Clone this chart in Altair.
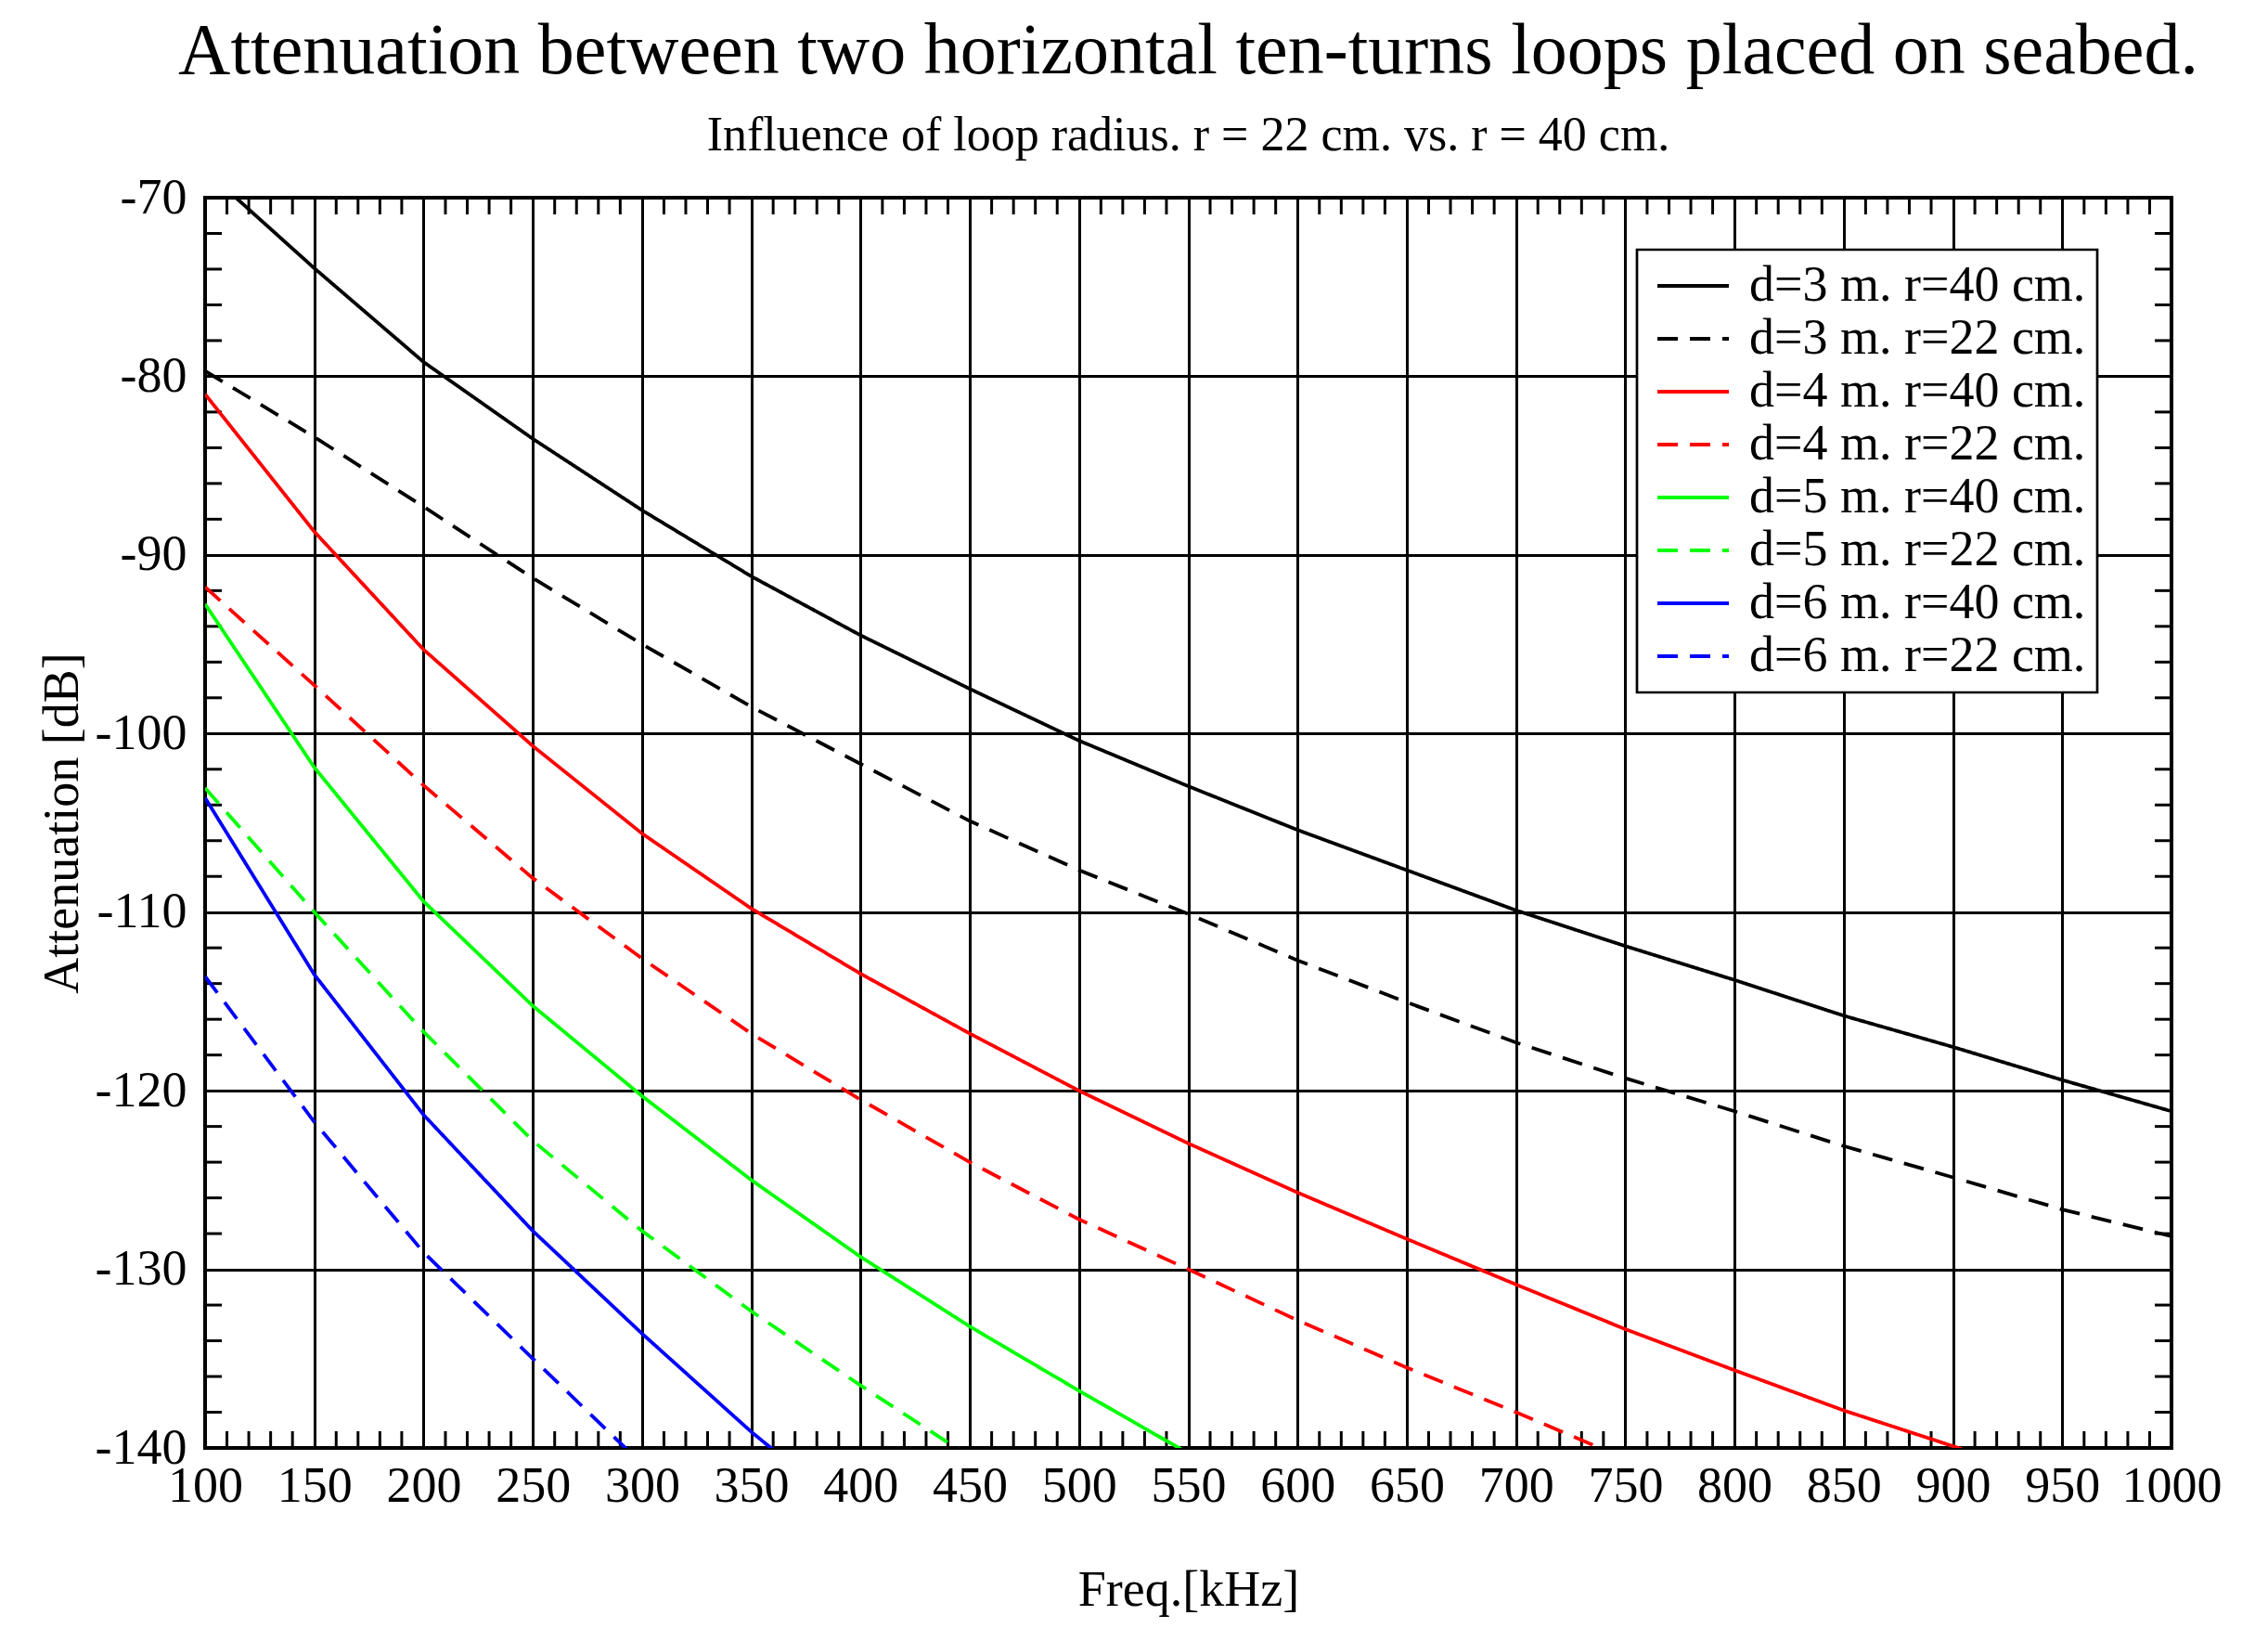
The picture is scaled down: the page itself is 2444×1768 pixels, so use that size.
import altair as alt
import pandas as pd

# ---------------- data ----------------
freq = [100, 150, 200, 250, 300, 350, 400, 450, 500, 550,
        600, 650, 700, 750, 800, 850, 900, 950, 1000]

d3_r40 = [-68.45, -73.95, -79.2, -83.5, -87.5, -91.2, -94.5, -97.5, -100.4, -102.95,
          -105.4, -107.65, -109.9, -111.9, -113.8, -115.8, -117.55, -119.4, -121.15]
d3_r22 = [-79.7, -83.4, -87.3, -91.3, -95.0, -98.5, -101.7, -104.9, -107.65, -110.1,
          -112.7, -115.05, -117.3, -119.3, -121.15, -123.1, -124.85, -126.65, -128.15]
d4_r40 = [-81.0, -88.7, -95.3, -100.7, -105.6, -109.8, -113.45, -116.8, -120.0, -122.95,
          -125.7, -128.3, -130.85, -133.35, -135.65, -137.9, -139.9, -142.0]
d4_r22 = [-91.8, -97.3, -102.9, -108.1, -112.6, -116.8, -120.5, -124.0, -127.2, -130.0,
          -132.85, -135.5, -138.0, -140.6]
d5_r40 = [-92.75, -101.9, -109.4, -115.25, -120.3, -125.0, -129.3, -133.2, -136.8, -140.3]
d5_r22 = [-103.05, -110.0, -116.7, -122.8, -127.85, -132.35, -136.5, -140.5]
d6_r40 = [-103.6, -113.5, -121.35, -127.85, -133.6, -139.1, -144.1]
d6_r22 = [-113.6, -121.75, -129.05, -135.0, -140.9]

series_names = ["d=3 m. r=40 cm.", "d=3 m. r=22 cm.",
                "d=4 m. r=40 cm.", "d=4 m. r=22 cm.",
                "d=5 m. r=40 cm.", "d=5 m. r=22 cm.",
                "d=6 m. r=40 cm.", "d=6 m. r=22 cm."]
series_values = [d3_r40, d3_r22, d4_r40, d4_r22, d5_r40, d5_r22, d6_r40, d6_r22]
series_colors = ["#000000", "#000000", "#ff0000", "#ff0000",
                 "#00ff00", "#00ff00", "#0000ff", "#0000ff"]
series_dash = [[1, 0], [22, 13], [1, 0], [22, 13], [1, 0], [22, 13], [1, 0], [22, 13]]

x_major = [100, 150, 200, 250, 300, 350, 400, 450, 500, 550,
           600, 650, 700, 750, 800, 850, 900, 950, 1000]
y_major = [-140, -130, -120, -110, -100, -90, -80, -70]
x_minor = [v for v in range(110, 1000, 10) if v % 50 != 0]
y_minor = [v for v in range(-138, -70, 2) if v % 10 != 0]

rows = []
for name, vals in zip(series_names, series_values):
    for f, v in zip(freq, vals):
        rows.append({"series": name, "freq": f, "att": v})
df = pd.DataFrame(rows)
df_xt = pd.DataFrame({"freq": x_minor})
df_yt = pd.DataFrame({"att": y_minor})

# ---------------- layout ----------------
W, H = 2119, 1347
TICK = 18
FONT = "Liberation Serif"

xscale = alt.Scale(domain=[100, 1000], nice=False, zero=False)
yscale = alt.Scale(domain=[-140, -70], nice=False, zero=False)

xaxis = alt.Axis(values=x_major, grid=True, gridColor="black", gridWidth=3,
                 gridOpacity=1, domain=False, ticks=False, tickSize=0,
                 labelFont=FONT, labelFontSize=54, labelColor="black",
                 labelPadding=14, labelExpr="'' + datum.value", labelFlush=False,
                 labelOverlap=False,
                 title="Freq.[kHz]", titleFont=FONT, titleFontSize=54,
                 titleFontWeight="normal", titleColor="black", titlePadding=58)
yaxis = alt.Axis(values=y_major, grid=True, gridColor="black", gridWidth=3,
                 gridOpacity=1, domain=False, ticks=False, tickSize=0,
                 labelFont=FONT, labelFontSize=54, labelColor="black",
                 labelPadding=20, labelExpr="'' + datum.value", labelFlush=False,
                 labelOverlap=False,
                 title="Attenuation [dB]", titleFont=FONT, titleFontSize=54,
                 titleFontWeight="normal", titleColor="black", titlePadding=8)

def X(field):
    return alt.X(field, type="quantitative", scale=xscale, axis=xaxis)

def Y(field):
    return alt.Y(field, type="quantitative", scale=yscale, axis=yaxis)

tick_bottom = alt.Chart(df_xt).mark_rule(color="black", strokeWidth=3).encode(
    x=X("freq"), y=alt.value(H), y2=alt.value(H - TICK))
tick_top = alt.Chart(df_xt).mark_rule(color="black", strokeWidth=3).encode(
    x=X("freq"), y=alt.value(0), y2=alt.value(TICK))
tick_left = alt.Chart(df_yt).mark_rule(color="black", strokeWidth=3).encode(
    y=Y("att"), x=alt.value(0), x2=alt.value(TICK))
tick_right = alt.Chart(df_yt).mark_rule(color="black", strokeWidth=3).encode(
    y=Y("att"), x=alt.value(W), x2=alt.value(W - TICK))

lines = alt.Chart(df).mark_line(clip=True, strokeWidth=3.8).encode(
    x=X("freq"),
    y=Y("att"),
    color=alt.Color("series:N",
                    scale=alt.Scale(domain=series_names, range=series_colors),
                    legend=alt.Legend(title=None)),
    strokeDash=alt.StrokeDash("series:N",
                              scale=alt.Scale(domain=series_names, range=series_dash),
                              legend=alt.Legend(title=None)),
    order=alt.Order("freq:Q"),
)

chart = alt.layer(tick_bottom, tick_top, tick_left, tick_right, lines).properties(
    width=W, height=H,
    autosize=alt.AutoSizeParams(type="none"),
    padding={"left": 213, "top": 205, "right": 96, "bottom": 190},
    title=alt.TitleParams(
        text="Attenuation between two horizontal ten-turns loops placed on seabed.",
        subtitle="Influence of loop radius. r = 22 cm. vs. r = 40 cm.",
        font=FONT, fontSize=78, fontWeight="normal", color="black",
        subtitleFont=FONT, subtitleFontSize=52, subtitleColor="black",
        anchor="middle", frame="group", offset=14, subtitlePadding=26,
    ),
).configure(
    background="white"
).configure_view(
    stroke="black", strokeWidth=4
).configure_legend(
    orient="none", legendX=1543, legendY=56,
    padding=12, rowPadding=3,
    strokeColor="black", strokeWidth=2.7, fillColor="white",
    symbolType="M-1.133,0H4.0", symbolSize=900, symbolStrokeWidth=3.8,
    labelFont=FONT, labelFontSize=54, labelColor="black",
    labelOffset=55, labelLimit=1000,
)

chart.save("out.html", embed_options={"renderer": "svg", "actions": False})
